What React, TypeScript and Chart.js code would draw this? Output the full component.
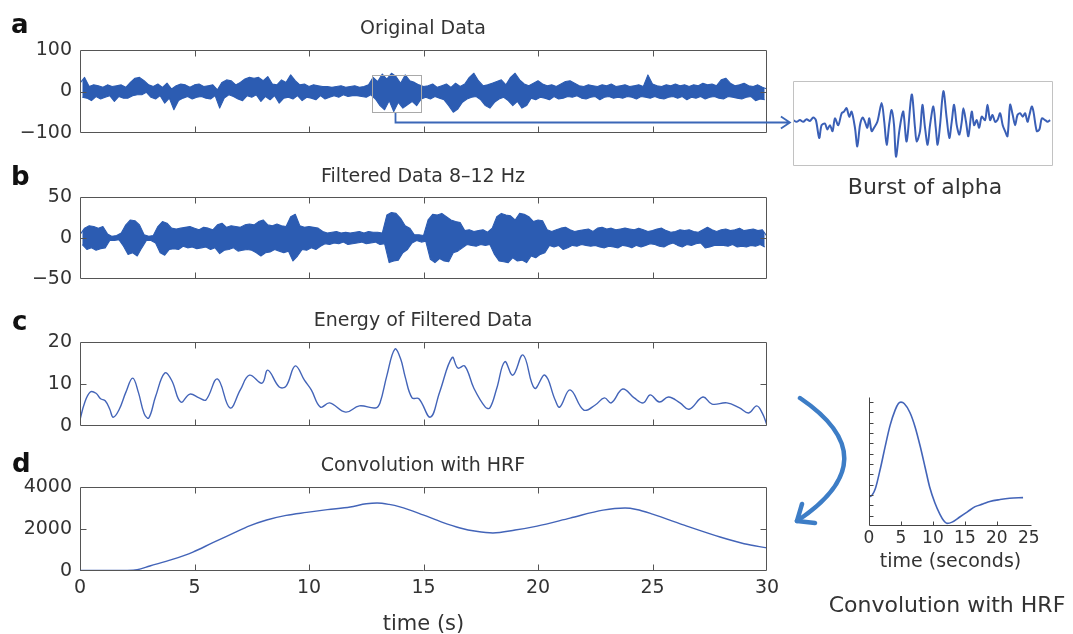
import React, { useEffect, useRef } from 'react';
import { Chart, registerables } from 'chart.js';

Chart.register(...registerables);

const FONT = '"DejaVu Sans", "Liberation Sans", sans-serif';
const TEXT = '#333333';
const AXIS = '#555555';
const LINE_DARK = '#2c5cb2';
const LINE_MID = '#4364b8';

// ---------- data ----------
// Panels a and b are dense traces; at this size each is read as its upper and
// lower excursion, one pair every 0.2 s (upper at 0.2k s, lower at 0.2k + 0.1 s).
const BIN_STEP = 0.2;
const LOW_OFFSET = 0.1;

// a: Original Data (µV)
const aHigh = [
  20, 34, 12, 16, 14, 10, 16, 12, 14, 16,
  10, 22, 32, 34, 26, 16, 12, 18, 10, 20,
  6, 14, 18, 16, 10, 16, 18, 12, 14, 16,
  4, 22, 28, 26, 16, 22, 30, 34, 32, 34,
  26, 36, 18, 16, 28, 22, 40, 26, 16, 18,
  12, 16, 14, 12, 12, 10, 12, 14, 10, 12,
  14, 10, 12, 16, 34, 24, 42, 30, 44, 36,
  20, 40, 26, 22, 16, 12, 14, 18, 10, 14,
  18, 10, 20, 12, 18, 34, 44, 26, 14, 16,
  20, 24, 28, 16, 34, 44, 28, 18, 14, 20,
  26, 18, 14, 16, 12, 18, 24, 26, 20, 14,
  12, 16, 14, 12, 16, 14, 18, 12, 14, 16,
  12, 14, 16, 12, 40, 18, 14, 12, 16, 14,
  18, 14, 16, 12, 16, 14, 20, 16, 18, 14,
  28, 32, 20, 14, 16, 20, 14, 12, 16, 10,
  6,
];
const aLow = [
  -14, -16, -22, -12, -18, -14, -10, -24, -12, -16,
  -16, -10, -8, -8, -2, -14, -18, -10, -28, -16,
  -44, -22, -16, -12, -18, -14, -12, -16, -18, -10,
  -40, -16, -8, -12, -18, -22, -10, -14, -8, -24,
  -12, -20, -10, -28, -16, -14, -18, -10, -22, -14,
  -16, -20, -10, -18, -14, -10, -14, -8, -12, -10,
  -10, -12, -14, -8, -18, -34, -44, -22, -48, -26,
  -40, -32, -24, -34, -18, -14, -18, -12, -16, -20,
  -34, -50, -42, -26, -18, -14, -12, -20, -34, -40,
  -26, -18, -14, -22, -34, -24, -40, -34, -16, -20,
  -14, -16, -20, -12, -18, -16, -12, -14, -10, -16,
  -18, -14, -12, -20, -14, -12, -16, -14, -16, -12,
  -14, -18, -12, -14, -16, -12, -16, -18, -14, -12,
  -16, -12, -20, -14, -16, -12, -18, -14, -12, -16,
  -18, -12, -14, -16, -18, -14, -12, -22, -18, -20,
];

// b: Filtered Data 8–12 Hz
const bHigh = [
  4, 12, 15, 14, 12, 14, 5, 2, 3, 6,
  16, 22, 21, 16, 4, 2, 3, 14, 20, 18,
  12, 11, 12, 13, 14, 12, 10, 13, 12, 10,
  16, 18, 13, 15, 14, 13, 16, 17, 16, 20,
  22, 16, 15, 17, 15, 14, 26, 29, 15, 13,
  14, 13, 12, 8, 6, 7, 8, 6, 7, 6,
  7, 8, 6, 8, 7, 7, 6, 28, 31, 30,
  24, 15, 12, 4, 4, 3, 22, 29, 28, 30,
  26, 22, 20, 19, 9, 10, 8, 9, 10, 7,
  12, 26, 30, 28, 27, 22, 30, 29, 26, 20,
  22, 21, 10, 8, 10, 12, 13, 10, 8, 9,
  10, 11, 8, 12, 13, 11, 12, 10, 11, 12,
  11, 10, 12, 10, 8, 9, 11, 12, 9, 7,
  8, 10, 9, 10, 8, 7, 10, 13, 10, 8,
  10, 11, 9, 10, 12, 9, 10, 11, 9, 10,
  2,
];
const bLow = [
  -8, -14, -12, -15, -13, -12, -3, -3, -2, -10,
  -20, -18, -22, -12, -3, -3, -6, -18, -21, -14,
  -13, -14, -10, -12, -11, -13, -12, -11, -14, -12,
  -19, -15, -14, -12, -16, -15, -14, -15, -18, -22,
  -18, -17, -14, -16, -18, -16, -28, -22, -14, -15,
  -12, -14, -10, -7, -8, -6, -7, -5, -8, -7,
  -6, -5, -7, -6, -5, -8, -7, -30, -28, -27,
  -18, -14, -6, -3, -5, -4, -26, -30, -25, -28,
  -29, -18, -16, -12, -8, -9, -10, -8, -9, -8,
  -20, -28, -29, -30, -24, -28, -27, -30, -22, -24,
  -20, -18, -9, -11, -9, -14, -12, -9, -10, -8,
  -9, -10, -9, -11, -12, -10, -11, -12, -9, -10,
  -12, -9, -11, -9, -7, -8, -10, -11, -8, -6,
  -9, -11, -8, -9, -7, -6, -12, -11, -9, -9,
  -9, -10, -8, -11, -10, -11, -9, -10, -8, -11,
];

// c: Energy of Filtered Data
const cTime = [0, 0.2, 0.45, 0.7, 0.9, 1.1, 1.3, 1.45, 1.7, 2.0, 2.3, 2.55, 2.8, 3.0, 3.3, 3.7, 4.0, 4.4, 4.8, 5.2, 5.5, 6.0, 6.55, 7.0, 7.4, 7.95, 8.2, 8.7, 9.0, 9.4, 9.8, 10.1, 10.5, 10.9, 11.6, 12.2, 12.9, 13.1, 13.4, 13.75, 14.0, 14.2, 14.5, 14.8, 15.3, 15.7, 16.25, 16.5, 16.8, 17.2, 17.7, 17.9, 18.2, 18.55, 18.9, 19.35, 19.85, 20.3, 20.75, 20.95, 21.4, 22.0, 22.5, 22.9, 23.2, 23.7, 24.2, 24.6, 24.9, 25.3, 25.7, 26.2, 26.6, 27.2, 27.6, 28.25, 28.8, 29.2, 29.55, 29.8, 30];
const cValues = [1.5, 5.5, 8.1, 7.8, 6.5, 6, 4, 2.1, 3.8, 8, 11.4, 8, 3, 1.9, 7, 12.6, 10.9, 5.7, 7.6, 6.7, 6.2, 11.2, 4.3, 8.6, 12.1, 10.2, 13.3, 9.3, 9.5, 14.3, 10.9, 8.6, 4.5, 5.5, 3.3, 4.8, 4.3, 5.5, 12, 18.3, 16, 11.7, 6.7, 6.5, 2.1, 8, 16.3, 13.8, 14.3, 9, 4.5, 4.3, 9, 15.3, 12.1, 16.9, 9, 12.1, 6.2, 4.5, 8.6, 3.8, 5, 6.7, 5.5, 8.8, 6.7, 5.5, 7.4, 5.7, 6.9, 5.5, 4.0, 6.9, 5.2, 5.5, 4.3, 3.1, 4.8, 3, 0.2];

// d: Convolution with HRF
const dTime = [0, 1, 2, 2.5, 3.05, 4, 4.93, 5.8, 6.7, 7.4, 8.15, 9, 9.9, 10.8, 11.8, 12.5, 12.97, 13.5, 13.97, 14.98, 15.8, 16.6, 17.3, 18.03, 19, 19.96, 21.4, 22.84, 23.8, 24.3, 25.0, 26.5, 27.95, 29, 30];
const dValues = [30, 25, 30, 60, 240, 540, 900, 1350, 1800, 2150, 2430, 2650, 2790, 2920, 3050, 3200, 3240, 3170, 3050, 2670, 2330, 2050, 1890, 1810, 1950, 2140, 2520, 2900, 3000, 2930, 2710, 2140, 1620, 1300, 1100];

// HRF inset (time in seconds, relative amplitude)
const hrfTime = [0, 0.5, 1, 1.8, 2.5, 3.3, 4.1, 4.6, 5, 5.5, 6.4, 7.2, 8, 8.8, 9.5, 10.3, 11.1, 11.7, 12.2, 13, 14.2, 15.4, 16.6, 17.8, 18.9, 20.5, 22, 24.1];
const hrfValues = [0.225, 0.24, 0.29, 0.45, 0.61, 0.78, 0.9, 0.95, 0.96, 0.95, 0.88, 0.77, 0.62, 0.45, 0.3, 0.18, 0.09, 0.04, 0.02, 0.03, 0.07, 0.11, 0.15, 0.17, 0.19, 0.205, 0.215, 0.22];

// Burst of alpha inset (ms from burst start, µV)
const burstMs = [0, 28, 56, 84, 112, 140, 168, 190, 218, 238, 266, 286, 308, 330, 350, 378, 406, 426, 448, 470, 490, 518, 538, 560, 582, 602, 622, 638, 658, 678, 706, 742, 764, 784, 806, 826, 846, 862, 890, 910, 924, 952, 994, 1022, 1036, 1064, 1084, 1106, 1128, 1148, 1176, 1196, 1212, 1232, 1260, 1288, 1310, 1330, 1350, 1372, 1394, 1414, 1428, 1450, 1470, 1498, 1518, 1540, 1560, 1582, 1610, 1630, 1652, 1672, 1694, 1714, 1736, 1758, 1778, 1798, 1820, 1842, 1862, 1882, 1904, 1926, 1946, 1966, 1982, 2002, 2016, 2044, 2066, 2086, 2114, 2134, 2156];
const burstValues = [4, 2, 4, 2, 5, 3, 7, 4, -17, -2, 0, -7, -2, -9, 6, -2, 12, 14, 18, 8, 14, -5, -27, -2, 7, 2, -5, 6, -9, -5, 2, 24, 2, -25, 0, 16, -2, -39, -9, 8, 14, -21, 34, -5, -21, -9, 22, -5, -25, -2, 20, -5, -25, -2, 38, 6, -17, 2, 22, -2, -13, 2, 18, 2, -15, 14, -2, 4, -5, 8, 4, 22, 4, 10, 2, 4, 12, -2, -9, -15, 22, 10, -2, 10, 12, 8, 12, 2, 10, 20, 14, -9, -7, 6, 4, 2, 4];

// selection in panel a (time s / µV) and the arrow to the inset
const selection = { t0: 12.75, t1: 14.9, vLow: -49, vHigh: 40 };
const pointer = { t: 13.76, v: -73, tEnd: 31.0 };

// ---------- helpers ----------
const binned = (ys: number[], offset: number) => ys.map((y, i) => ({ x: +(i * BIN_STEP + offset).toFixed(2), y }));
const paired = (xs: number[], ys: number[]) => ys.map((y, i) => ({ x: xs[i], y }));
const minusFmt = (v: any) => String(v).replace('-', '\u2212');

type BoxOpts = { mode: 'box' | 'axes' | 'frame'; color: string; tickLen: number; extra?: (chart: any) => void };

function boxPlugin(o: BoxOpts) {
  return {
    id: 'mbox',
    afterDatasetsDraw(chart: any) {
      const { ctx, chartArea, scales } = chart;
      const L = Math.round(chartArea.left) + 0.5;
      const T = Math.round(chartArea.top) + 0.5;
      const R = Math.round(chartArea.right) - 0.5;
      const B = Math.round(chartArea.bottom) - 0.5;
      ctx.save();
      ctx.strokeStyle = o.color;
      ctx.lineWidth = 1;
      ctx.beginPath();
      if (o.mode === 'box' || o.mode === 'frame') {
        ctx.rect(L, T, R - L, B - T);
      } else {
        ctx.moveTo(L, T);
        ctx.lineTo(L, B);
        ctx.lineTo(R, B);
      }
      if (o.mode !== 'frame') {
        const xs = scales.x;
        const ys = scales.y;
        (xs.ticks || []).forEach((t: any) => {
          const px = Math.round(xs.getPixelForValue(t.value)) + 0.5;
          if (px - L < 3 || R - px < 3) return;
          ctx.moveTo(px, B);
          ctx.lineTo(px, B - o.tickLen);
          if (o.mode === 'box') {
            ctx.moveTo(px, T);
            ctx.lineTo(px, T + o.tickLen);
          }
        });
        (ys.ticks || []).forEach((t: any) => {
          const py = Math.round(ys.getPixelForValue(t.value)) + 0.5;
          if (py - T < 3 || B - py < 3) return;
          ctx.moveTo(L, py);
          ctx.lineTo(L + o.tickLen, py);
          if (o.mode === 'box') {
            ctx.moveTo(R, py);
            ctx.lineTo(R - o.tickLen, py);
          }
        });
      }
      ctx.stroke();
      ctx.restore();
      if (o.extra) o.extra(chart);
    },
  };
}

function drawSelection(chart: any) {
  const { ctx, scales } = chart;
  const x = scales.x;
  const y = scales.y;
  ctx.save();
  ctx.strokeStyle = '#a9a9a9';
  ctx.lineWidth = 1;
  const x0 = x.getPixelForValue(selection.t0);
  const x1 = x.getPixelForValue(selection.t1);
  const y0 = y.getPixelForValue(selection.vHigh);
  const y1 = y.getPixelForValue(selection.vLow);
  ctx.strokeRect(Math.round(x0) + 0.5, Math.round(y0) + 0.5, Math.round(x1 - x0), Math.round(y1 - y0));
  const ax = Math.round(x.getPixelForValue(pointer.t)) + 0.5;
  const ay = Math.round(y.getPixelForValue(pointer.v)) + 0.5;
  const ex = x.getPixelForValue(pointer.tEnd);
  ctx.strokeStyle = '#3b67b7';
  ctx.lineWidth = 1.8;
  ctx.beginPath();
  ctx.moveTo(ax, Math.round(y1) + 1);
  ctx.lineTo(ax, ay);
  ctx.lineTo(ex, ay);
  ctx.moveTo(ex - 9, ay - 6);
  ctx.lineTo(ex, ay);
  ctx.lineTo(ex - 9, ay + 6);
  ctx.stroke();
  ctx.restore();
}

const tickFont = { family: FONT, size: 19 };

function lineSet(points: { x: number; y: number }[], color: string, lw: number, tension: number, mono?: boolean) {
  return {
    data: points,
    borderColor: color,
    borderWidth: lw,
    borderJoinStyle: 'round',
    pointRadius: 0,
    tension,
    cubicInterpolationMode: mono ? 'monotone' : 'default',
    fill: false,
  };
}

function bandSets(high: number[], low: number[]) {
  return [
    { ...lineSet(binned(high, 0), LINE_DARK, 1.1, 0) },
    { ...lineSet(binned(low, LOW_OFFSET), LINE_DARK, 1.1, 0), fill: '-1', backgroundColor: LINE_DARK },
  ];
}

function mainConfig(p: {
  datasets: any[];
  yMin: number; yMax: number; yStep: number;
  showX: boolean; xh: number; padTop: number; extra?: (c: any) => void;
}) {
  return {
    type: 'line' as const,
    data: { datasets: p.datasets },
    options: {
      animation: false,
      responsive: false,
      events: [],
      layout: { padding: { top: p.padTop, right: 33, left: 0, bottom: 0 } },
      plugins: { legend: { display: false }, tooltip: { enabled: false }, title: { display: false }, filler: { propagate: false } },
      scales: {
        x: {
          type: 'linear',
          min: 0,
          max: 30,
          ticks: { stepSize: 5, display: p.showX, font: tickFont, color: TEXT, padding: 6, maxRotation: 0, autoSkip: false },
          grid: { display: false, drawTicks: false },
          border: { display: false },
          title: p.showX
            ? { display: true, text: 'time (s)', font: { family: FONT, size: 21 }, color: TEXT, padding: { top: 0, bottom: 1 } }
            : { display: false },
          afterFit: (s: any) => { s.height = p.xh; },
        },
        y: {
          type: 'linear',
          min: p.yMin,
          max: p.yMax,
          ticks: { stepSize: p.yStep, font: tickFont, color: TEXT, padding: 8, callback: minusFmt },
          grid: { display: false, drawTicks: false },
          border: { display: false },
          afterFit: (s: any) => { s.width = 80; },
        },
      },
    },
    plugins: [boxPlugin({ mode: 'box', color: AXIS, tickLen: 6, extra: p.extra })],
  };
}

function burstConfig() {
  return {
    type: 'line' as const,
    data: {
      datasets: [{ ...lineSet(paired(burstMs, burstValues), '#3a5fb6', 2, 0.3) }],
    },
    options: {
      animation: false,
      responsive: false,
      events: [],
      layout: { padding: 5 },
      plugins: { legend: { display: false }, tooltip: { enabled: false } },
      scales: {
        x: { type: 'linear', min: -2, max: 2180, display: false },
        y: { type: 'linear', min: -50, max: 50, display: false },
      },
    },
    plugins: [boxPlugin({ mode: 'frame', color: '#c2c2c2', tickLen: 0 })],
  };
}

function hrfConfig() {
  return {
    type: 'line' as const,
    data: {
      datasets: [{ ...lineSet(paired(hrfTime, hrfValues), LINE_MID, 1.6, 0, true) }],
    },
    options: {
      animation: false,
      responsive: false,
      events: [],
      layout: { padding: { top: 17, right: 18, left: 0, bottom: 0 } },
      plugins: { legend: { display: false }, tooltip: { enabled: false } },
      scales: {
        x: {
          type: 'linear', min: 0, max: 25.5,
          ticks: { stepSize: 5, includeBounds: false, font: { family: FONT, size: 17 }, color: TEXT, padding: 2, maxRotation: 0, autoSkip: false },
          grid: { display: false, drawTicks: false },
          border: { display: false },
          title: { display: true, text: 'time (seconds)', font: { family: FONT, size: 19 }, color: TEXT, padding: { top: 0, bottom: 7 } },
          afterFit: (s: any) => { s.height = 54; },
        },
        y: {
          type: 'linear', min: 0, max: 1,
          ticks: { stepSize: 0.08, includeBounds: false, display: false },
          grid: { display: false, drawTicks: false },
          border: { display: false },
          afterFit: (s: any) => { s.width = 49; },
        },
      },
    },
    plugins: [boxPlugin({ mode: 'axes', color: '#444444', tickLen: 4 })],
  };
}

function ChartCanvas({ left, top, width, height, build }: { left: number; top: number; width: number; height: number; build: () => any }) {
  const ref = useRef<HTMLCanvasElement>(null);
  useEffect(() => {
    const chart = new Chart(ref.current as HTMLCanvasElement, build());
    return () => chart.destroy();
  }, []);
  return (
    <canvas
      ref={ref}
      width={width}
      height={height}
      style={{ position: 'absolute', left, top, width, height }}
    />
  );
}

function Text({ text, cx, baseline, size, bold, color }: { text: string; cx: number; baseline: number; size: number; bold?: boolean; color?: string }) {
  return (
    <div
      style={{
        position: 'absolute',
        left: cx - 300,
        width: 600,
        top: baseline - 0.846 * size,
        fontFamily: FONT,
        fontSize: size,
        lineHeight: 1,
        fontWeight: bold ? 700 : 400,
        color: color || TEXT,
        textAlign: 'center',
        whiteSpace: 'nowrap',
      }}
    >
      {text}
    </div>
  );
}

function Letter({ text, left, baseline }: { text: string; left: number; baseline: number }) {
  const size = 26;
  return (
    <div
      style={{
        position: 'absolute', left, top: baseline - 0.846 * size,
        fontFamily: FONT, fontSize: size, lineHeight: 1, fontWeight: 700, color: '#111111',
      }}
    >
      {text}
    </div>
  );
}

export default function App() {
  return (
    <div style={{ position: 'absolute', left: 0, top: 0, width: 1073, height: 634, overflow: 'hidden', background: '#ffffff' }}>
      <ChartCanvas left={0} top={30} width={800} height={123}
        build={() => mainConfig({ datasets: bandSets(aHigh, aLow), yMin: -100, yMax: 100, yStep: 100, showX: false, xh: 20, padTop: 20, extra: drawSelection })} />
      <ChartCanvas left={0} top={177} width={800} height={122}
        build={() => mainConfig({ datasets: bandSets(bHigh, bLow), yMin: -50, yMax: 50, yStep: 50, showX: false, xh: 20, padTop: 20 })} />
      <ChartCanvas left={0} top={322} width={800} height={124}
        build={() => mainConfig({ datasets: [lineSet(paired(cTime, cValues), LINE_MID, 1.4, 0.4)], yMin: 0, yMax: 20, yStep: 10, showX: false, xh: 20, padTop: 20 })} />
      <ChartCanvas left={0} top={467} width={800} height={171}
        build={() => mainConfig({ datasets: [lineSet(paired(dTime, dValues), LINE_MID, 1.4, 0, true)], yMin: 0, yMax: 4000, yStep: 2000, showX: true, xh: 67, padTop: 20 })} />
      <ChartCanvas left={788} top={76} width={270} height={95} build={burstConfig} />
      <ChartCanvas left={820} top={380} width={230} height={200} build={hrfConfig} />

      <Letter text="a" left={11} baseline={33} />
      <Letter text="b" left={11} baseline={185} />
      <Letter text="c" left={12} baseline={330} />
      <Letter text="d" left={12} baseline={472} />

      <Text text="Original Data" cx={423} baseline={34} size={19} />
      <Text text="Filtered Data 8–12 Hz" cx={423} baseline={182} size={19} />
      <Text text="Energy of Filtered Data" cx={423} baseline={326} size={19} />
      <Text text="Convolution with HRF" cx={423} baseline={471} size={19} />
      <Text text="Burst of alpha" cx={925} baseline={195} size={22} />
      <Text text="Convolution with HRF" cx={947} baseline={613} size={22} />

      <svg width={1073} height={634} style={{ position: 'absolute', left: 0, top: 0, pointerEvents: 'none' }}>
        <path d="M 800 398 Q 890 459 797 521" fill="none" stroke="#3d7dc6" strokeWidth={4.5} strokeLinecap="round" />
        <polyline points="802,504 797,521 815,523" fill="none" stroke="#3d7dc6" strokeWidth={4.5} strokeLinecap="round" strokeLinejoin="round" />
      </svg>
    </div>
  );
}
